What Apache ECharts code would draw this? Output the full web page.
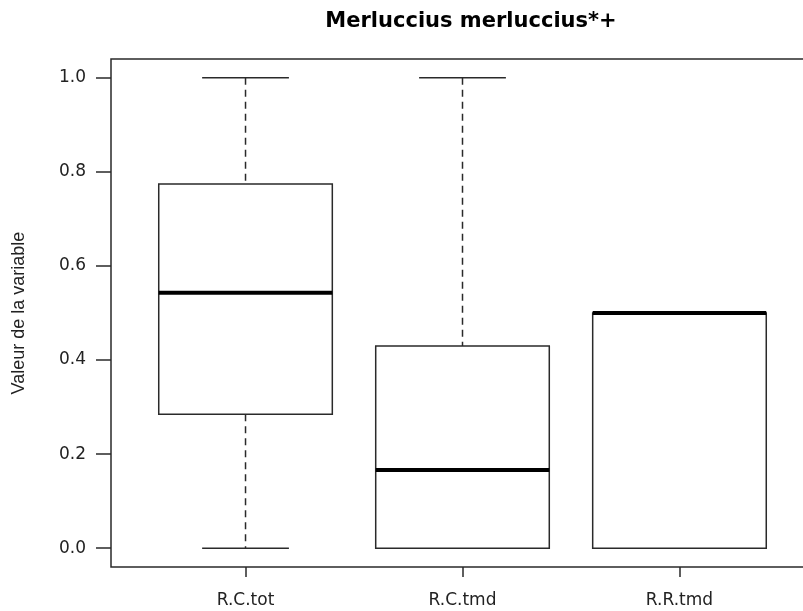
<!DOCTYPE html>
<html>
<head>
<meta charset="utf-8">
<script src="https://cdn.jsdelivr.net/npm/echarts@6/dist/echarts.min.js"></script>
<style>
  html, body { margin: 0; padding: 0; background: #fff; }
  #chart { width: 803px; height: 611px; }
</style>
</head>
<body>
<div id="chart"></div>
<script>
// boxplot stats
const categories = ['R.C.tot', 'R.C.tmd', 'R.R.tmd'];
const positions = [1, 2, 3];
const lowerWhisker = [0, 0, 0];
const lowerQuartile = [0.285, 0, 0];
const medians = [0.543, 0.166, 0.5];
const upperQuartile = [0.774, 0.430, 0.5];
const upperWhisker = [1, 1, 0.5];
const yTicks = [0, 0.2, 0.4, 0.6, 0.8, 1.0];

const boxData = categories.map((c, i) => [
    positions[i], lowerWhisker[i], lowerQuartile[i], medians[i], upperQuartile[i], upperWhisker[i]
]);

const ink = '#2a2a2a';
const font = 'DejaVu Sans, sans-serif';

const chart = echarts.init(document.getElementById('chart'));

function renderBox(params, api) {
    const x = api.value(0);
    const half = api.size([0.4, 0])[0];
    const staple = api.size([0.2, 0])[0];
    const pt = v => api.coord([x, v]);
    const lo = pt(api.value(1)), q1 = pt(api.value(2)), md = pt(api.value(3));
    const q3 = pt(api.value(4)), hi = pt(api.value(5));
    const cx = lo[0];
    const dash = { stroke: ink, lineWidth: 1.5, lineDash: [7, 5], fill: null };
    const solid = { stroke: ink, lineWidth: 1.5, fill: null };
    return {
        type: 'group',
        children: [
            { type: 'line', shape: { x1: cx, y1: hi[1], x2: cx, y2: q3[1] }, style: dash },
            { type: 'line', shape: { x1: cx, y1: q1[1], x2: cx, y2: lo[1] }, style: dash },
            { type: 'line', shape: { x1: cx - staple, y1: hi[1], x2: cx + staple, y2: hi[1] }, style: solid },
            { type: 'line', shape: { x1: cx - staple, y1: lo[1], x2: cx + staple, y2: lo[1] }, style: solid },
            { type: 'rect', shape: { x: cx - half, y: q3[1], width: half * 2, height: q1[1] - q3[1] },
              style: { stroke: ink, lineWidth: 1.5, fill: '#fff' } },
            { type: 'line', shape: { x1: cx - half, y1: md[1], x2: cx + half, y2: md[1] },
              style: { stroke: '#000', lineWidth: 4 } }
        ]
    };
}

const options = {
    animation: false,
    title: {
        text: 'Merluccius merluccius*+',
        left: 466,
        top: 6,
        textAlign: 'center',
        textStyle: { fontFamily: font, fontWeight: 'bold', fontSize: 21, color: '#000' }
    },
    grid: {
        left: 111, right: -11, top: 59, bottom: 44,
        outerBoundsMode: 'none',
        show: true, borderColor: ink, borderWidth: 1.5, backgroundColor: '#fff'
    },
    xAxis: {
        type: 'value',
        min: 0.38, max: 3.62,
        splitLine: { show: false },
        axisLine: { show: false, onZero: false },
        axisTick: { show: true, customValues: positions, length: 10, lineStyle: { color: ink, width: 1.5 } },
        axisLabel: {
            customValues: positions,
            formatter: v => categories[positions.indexOf(v)] || '',
            margin: 25,
            fontFamily: font, fontSize: 17, color: '#222'
        }
    },
    yAxis: {
        type: 'value',
        min: -0.04, max: 1.04,
        name: 'Valeur de la variable',
        nameLocation: 'middle',
        nameGap: 83,
        nameRotate: 90,
        nameTextStyle: { fontFamily: 'Liberation Sans, Arial, sans-serif', fontSize: 18, color: '#222' },
        splitLine: { show: false },
        axisLine: { show: false, onZero: false },
        axisTick: { show: true, customValues: yTicks, length: 15, lineStyle: { color: ink, width: 1.5 } },
        axisLabel: {
            customValues: yTicks,
            formatter: v => v.toFixed(1),
            margin: 25,
            fontFamily: font, fontSize: 17, color: '#222'
        }
    },
    series: [{
        type: 'custom',
        renderItem: renderBox,
        encode: { x: 0, y: [1, 2, 3, 4, 5] },
        data: boxData
    }]
};

chart.setOption(options);
</script>
</body>
</html>
